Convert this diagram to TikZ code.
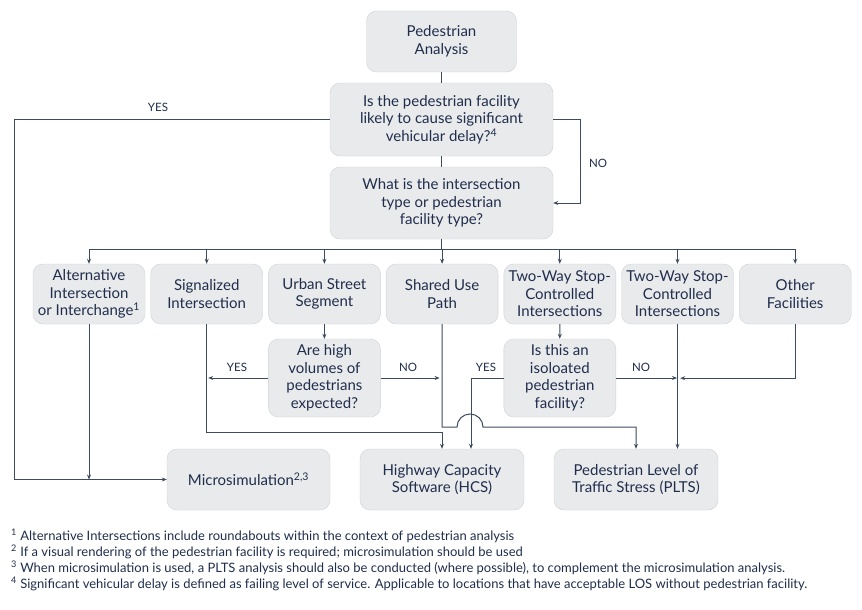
\documentclass[tikz,border=0pt]{standalone}
\usepackage{fontspec}
\setmainfont{Lato}
\usetikzlibrary{arrows.meta}

\definecolor{boxfill}{RGB}{233,234,236}
\definecolor{boxline}{RGB}{208,210,214}
\definecolor{ink}{RGB}{32,46,76}
\definecolor{wire}{RGB}{62,74,94}

\tikzset{
  box/.style={draw=boxline, fill=boxfill, rounded corners=10pt, text=ink,
    align=center, font=\fontsize{15}{17.5}\selectfont, inner sep=2pt},
  wire/.style={draw=wire, line width=1pt},
  arrow/.style={wire, -{Stealth[length=5pt,width=4pt]}},
  tag/.style={text=ink, font=\fontsize{11.5}{13}\selectfont, inner sep=0pt},
}

\begin{document}
\begin{tikzpicture}[x=1pt, y=-1pt]
    \fill[white] (0,0) rectangle (862,610);
    \useasboundingbox (0,0) rectangle (862,610);
    % Draw the top of the chart
    \node[box, minimum width=150pt, minimum height=61pt] (start) at (441.5,41.5) {Pedestrian\\Analysis};
    \node[box, minimum width=223pt, minimum height=73pt] (delay) at (441.5,119.5)
        {Is the pedestrian facility\\likely to cause significant\\vehicular delay?\textsuperscript{4}};
    \node[box, minimum width=223pt, minimum height=72pt] (type) at (441.5,203)
        {What is the intersection\\type or pedestrian\\facility type?};
    \draw[wire] (start) -- (delay);
    \draw[wire] (delay) -- (type);
    % Draw the row of facility types
    \foreach \name/\txt [count=\i from 0] in {
        alt/{Alternative\\Intersection\\or Interchange\textsuperscript{1}},
        sig/{Signalized\\Intersection},
        urban/{Urban Street\\Segment},
        shared/{Shared Use\\Path},
        twsc/{Two-Way Stop-\\Controlled\\Intersections},
        twsc2/{Two-Way Stop-\\Controlled\\Intersections},
        other/{Other\\Facilities}} {
        \node[box, minimum width=112pt, minimum height=60pt, inner sep=0pt] (\name) at (89+117.7*\i, 294) {\txt};
    }
    \coordinate (bar) at (441.5,249);
    \draw[wire] (type) -- (bar);
    \draw[wire] (alt.north |- bar) -- (other.north |- bar);
    \foreach \name in {alt, sig, urban, shared, twsc, twsc2, other} {
        \draw[arrow] (\name.north |- bar) -- (\name.north);
    }
    % Draw the two questions
    \node[box, minimum width=112pt, minimum height=78pt] (q1) at (324.4,378)
        {Are high\\volumes of\\pedestrians\\expected?};
    \node[box, minimum width=112pt, minimum height=78pt] (q2) at (559.8,378)
        {Is this an\\isoloated\\pedestrian\\facility?};
    \draw[arrow] (urban) -- (q1);
    \draw[arrow] (twsc) -- (q2);
    % Draw the results
    \node[box, minimum width=163pt, minimum height=61pt] (micro) at (248.5,479.5) {Microsimulation\textsuperscript{2,3}};
    \node[box, minimum width=164pt, minimum height=61pt] (hcs) at (442,479.5) {Highway Capacity\\Software (HCS)};
    \node[box, minimum width=164pt, minimum height=61pt] (plts) at (636,479.5) {Pedestrian Level of\\Traffic Stress (PLTS)};
    % Draw the YES and NO branches of the delay question
    \coordinate (yesleft) at (14,119.5);
    \draw[arrow] (delay.west) -- (yesleft) |- (micro.west);
    \draw[arrow] (delay.east) -- ++(27,0) |- (type.east);
    \node[tag] (yes1) at (158,107) {YES};
    \node[tag] (no1) at (598,163) {NO};
    % Draw the lines down to the results
    \draw[arrow] (alt.south) -- (alt.south |- micro.west);
    \draw[arrow] (sig.south) |- (hcs.north |- 0,432) -- (hcs.north);
    \draw[arrow] (shared.south) |- (457,427) arc[start angle=180, end angle=0, radius=13pt] -| (plts.north);
    \draw[arrow] (q1.west) -- ++(-60,0);
    \draw[arrow] (q1.east) -- ++(59,0);
    \node[tag] (yes2) at (237,367) {YES};
    \node[tag] (no2) at (408,367) {NO};
    \draw[arrow] (q2.west) -| ([xshift=29pt]hcs.north);
    \draw[arrow] (q2.east) -- ++(61,0);
    \node[tag] (yes3) at (486,367) {YES};
    \node[tag] (no3) at (641,367) {NO};
    \draw[arrow] (twsc2.south) -- (twsc2.south |- plts.north);
    \draw[arrow] (other.south) |- ++(-115,54);
    % Add the footnotes
    \node[text=ink, anchor=north west, align=left, inner sep=0pt,
        font=\fontsize{13}{16}\selectfont] (notes) at (11,529) {%
        \textsuperscript{1} Alternative Intersections include roundabouts within the context of pedestrian analysis\\
        \textsuperscript{2} If a visual rendering of the pedestrian facility is required; microsimulation should be used\\
        \textsuperscript{3} When microsimulation is used, a PLTS analysis should also be conducted (where possible), to complement the microsimulation analysis.\\
        \textsuperscript{4} Significant vehicular delay is defined as failing level of service. Applicable to locations that have acceptable LOS without pedestrian facility.};
\end{tikzpicture}
\end{document}
